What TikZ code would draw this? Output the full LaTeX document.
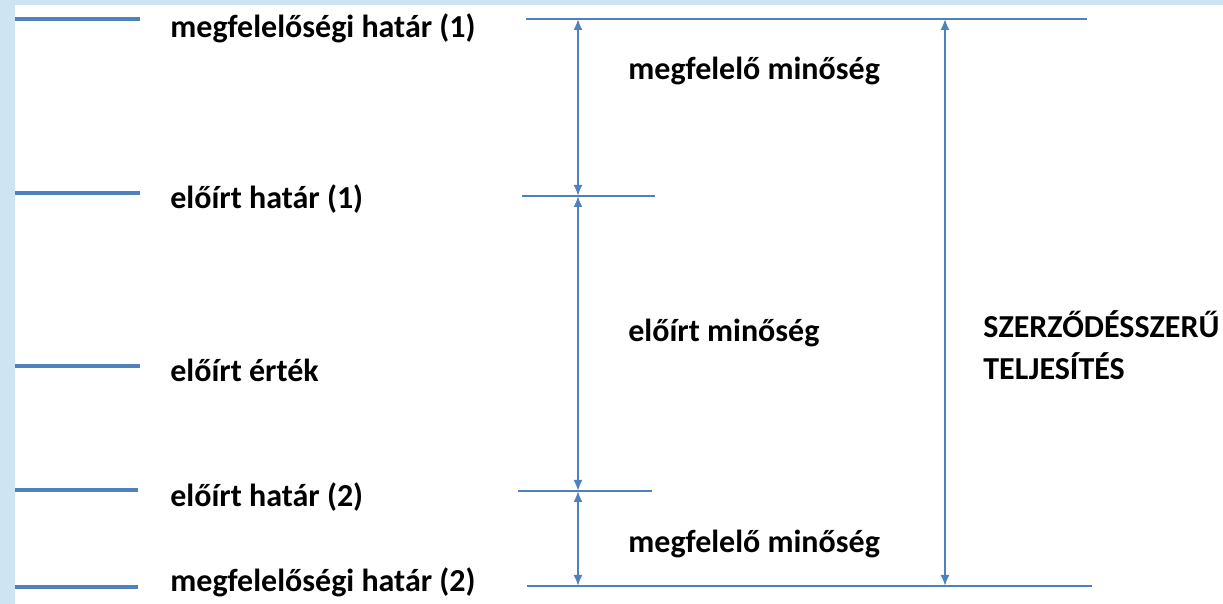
\documentclass[tikz,border=0pt]{standalone}
\usepackage{fontspec}
\setmainfont{Carlito}
\usetikzlibrary{positioning,arrows.meta}

\definecolor{vonalkek}{RGB}{79,129,189}
\definecolor{hatterkek}{RGB}{207,228,243}

\begin{document}
\begin{tikzpicture}[x=0.5pt,y=-0.5pt]
			\tikzset{szint/.style={draw=vonalkek,line width=1.6pt}}
			\tikzset{hatar/.style={draw=vonalkek,line width=1pt}}
			\tikzset{nyil/.style={draw=vonalkek,line width=1pt,{Latex[length=5.5pt,width=4.5pt]}-{Latex[length=5.5pt,width=4.5pt]}}}
			\tikzset{felirat/.style={anchor=base west,inner sep=0pt,font=\fontsize{16}{19}\selectfont\bfseries}}
			% background
			\fill[hatterkek] (0,0) rectangle (1223,604);
			\fill[white] (15,5) rectangle (1223,604);
			\useasboundingbox (0,0) rectangle (1223,604);
			% left scale
			\coordinate (mh1a) at (15,19);  \coordinate (mh1b) at (140,19);
			\coordinate (eh1a) at (15,193); \coordinate (eh1b) at (140,193);
			\coordinate (eea)  at (15,366); \coordinate (eeb)  at (140,366);
			\coordinate (eh2a) at (15,490); \coordinate (eh2b) at (138,490);
			\coordinate (mh2a) at (15,587); \coordinate (mh2b) at (138,587);
			\draw[szint] (mh1a) -- (mh1b);
			\draw[szint] (eh1a) -- (eh1b);
			\draw[szint] (eea) -- (eeb);
			\draw[szint] (eh2a) -- (eh2b);
			\draw[szint] (mh2a) -- (mh2b);
			\node[felirat] (mh1) at (170,38) {megfelelőségi határ (1)};
			\node[felirat] (eh1) at (170,209) {előírt határ (1)};
			\node[felirat] (ee) at (170,382) {előírt érték};
			\node[felirat] (eh2) at (170,507) {előírt határ (2)};
			\node[felirat] (mh2) at (170,592) {megfelelőségi határ (2)};
			% right limits
			\coordinate (fa) at (526,19);  \coordinate (fb) at (1087,19);
			\coordinate (ka) at (522,196); \coordinate (kb) at (655,196);
			\coordinate (la) at (518,491); \coordinate (lb) at (652,491);
			\coordinate (aa) at (527,586); \coordinate (ab) at (1092,586);
			\draw[hatar] (fa) -- (fb);
			\draw[hatar] (ka) -- (kb);
			\draw[hatar] (la) -- (lb);
			\draw[hatar] (aa) -- (ab);
			% arrows
			\coordinate (n1) at (578,19);
			\coordinate (n2) at (578,196);
			\coordinate (n3) at (578,491);
			\coordinate (n4) at (578,586);
			\coordinate (s1) at (945,19);
			\coordinate (s2) at (945,586);
			\draw[nyil] (n1) -- (n2);
			\draw[nyil] (n2) -- (n3);
			\draw[nyil] (n3) -- (n4);
			\draw[nyil] (s1) -- (s2);
			\node[felirat] (mm1) at (628,80) {megfelelő minőség};
			\node[felirat] (em) at (628,342) {előírt minőség};
			\node[felirat] (mm2) at (628,553) {megfelelő minőség};
			\node[felirat] (szt) at (983,338) {SZERZŐDÉSSZERŰ};
			\node[felirat] (telj) at (983,380) {TELJESÍTÉS};
\end{tikzpicture}
\end{document}
